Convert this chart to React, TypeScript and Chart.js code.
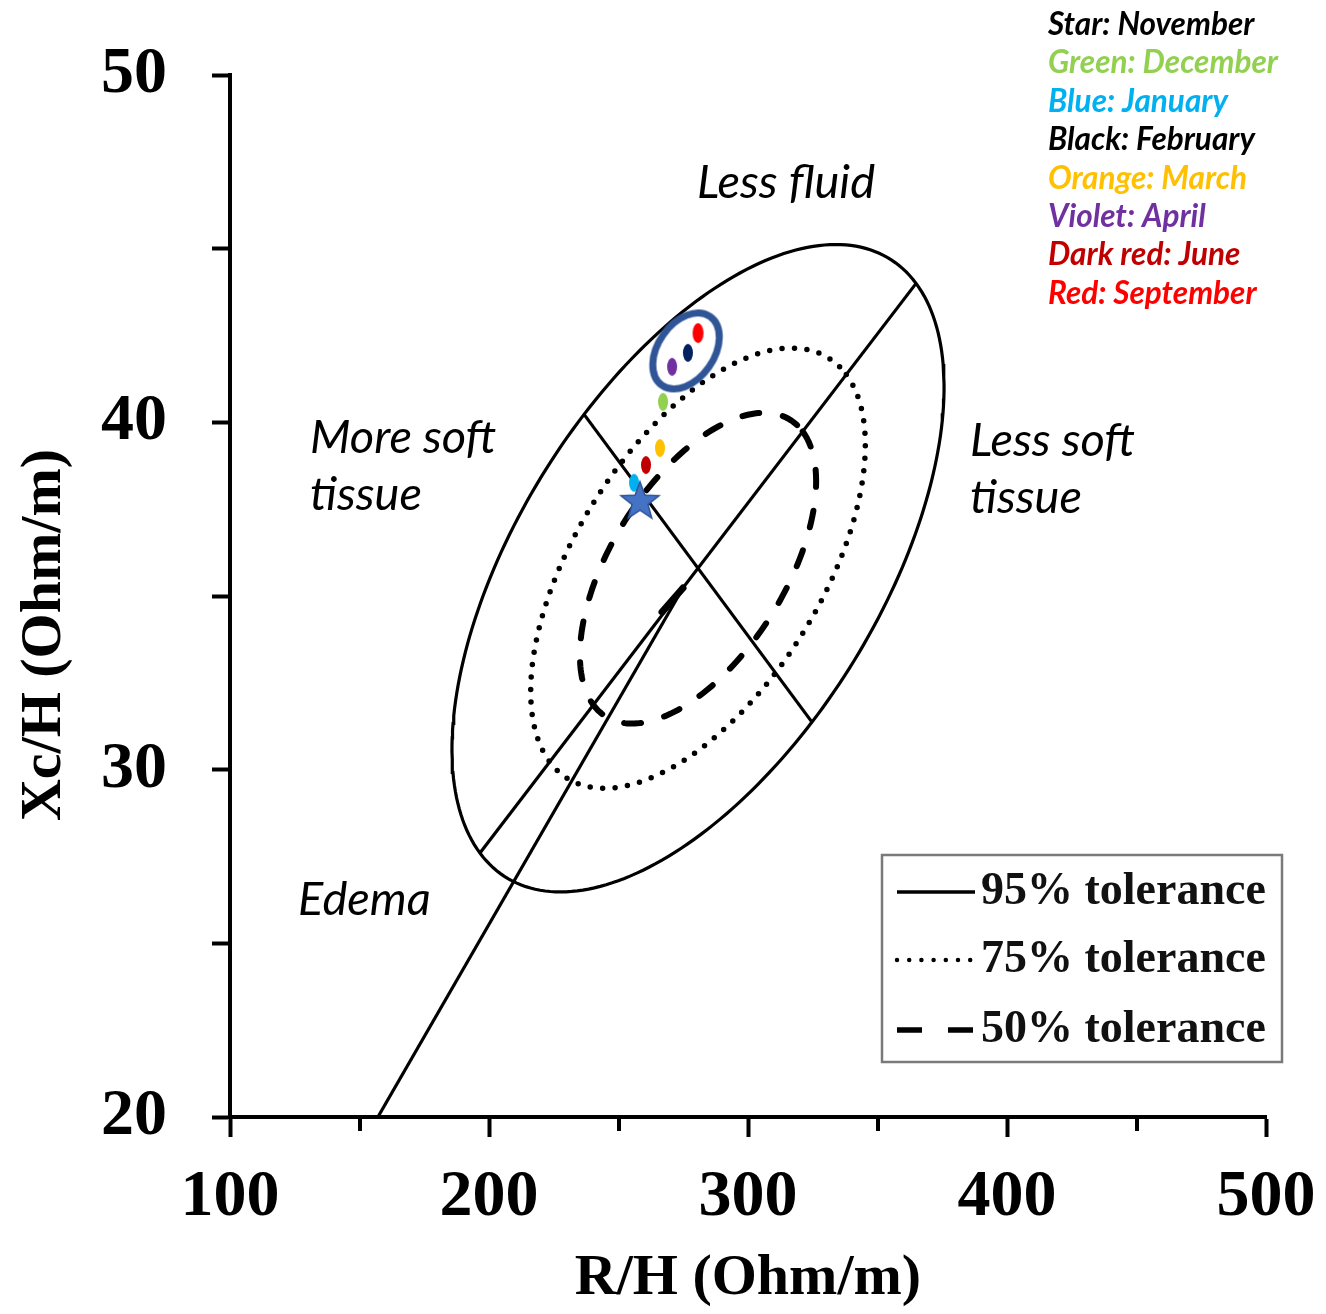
import React, { useEffect, useRef } from 'react';
import { Chart, registerables } from 'chart.js';

Chart.register(...registerables);

// ---------------- data ----------------
const xTickValues = [100, 200, 300, 400, 500];
const yTickValues = [20, 30, 40, 50];

// 95% tolerance ellipse: centre and the ends of its two drawn axes
const ellipseCenter = [280.7, 35.8];
const majorAxisEnd = [364.9, 44.0];
const minorAxisEnd = [324.7, 31.37];

const toleranceLabels = ['95% tolerance', '75% tolerance', '50% tolerance'];
const toleranceScales = [1, 0.68, 0.48];

// edema vector
const edemaLineStart = [157.1, 20];
const edemaLineEnd = [274.9, 35.23];
const edemaArrowBase = [266.8, 34.54];

const monthNames = ['November', 'December', 'January', 'February', 'March', 'April', 'June', 'September'];
const monthR = [258.3, 267.2, 256.0, 276.8, 266.0, 270.7, 260.6, 280.7];
const monthXc = [37.77, 40.59, 38.26, 42.0, 39.26, 41.6, 38.77, 42.57];
const monthMarkerColors = ['#4472C4', '#92D050', '#00B0F0', '#002060', '#FFC000', '#7030A0', '#C00000', '#FF0000'];
const monthLegendLabels = ['Star: November', 'Green: December', 'Blue: January', 'Black: February', 'Orange: March', 'Violet: April', 'Dark red: June', 'Red: September'];
const monthLegendColors = ['#000000', '#92D050', '#00B0F0', '#000000', '#FFC000', '#7030A0', '#C00000', '#FF0000'];
const highlightedMonths = ['February', 'April', 'September'];

// ---------------- helpers ----------------
const SERIF = "'Liberation Serif', 'Times New Roman', serif";
const SANS = "Lato, 'Open Sans', sans-serif";

function ellipseOutline(scale: number) {
  const cx = ellipseCenter[0], cy = ellipseCenter[1];
  const ux = (majorAxisEnd[0] - cx) * scale, uy = (majorAxisEnd[1] - cy) * scale;
  const vx = (minorAxisEnd[0] - cx) * scale, vy = (minorAxisEnd[1] - cy) * scale;
  const pts: { x: number; y: number }[] = [];
  const N = 240;
  for (let i = 0; i <= N; i++) {
    const t = (2 * Math.PI * i) / N;
    pts.push({ x: cx + ux * Math.cos(t) + vx * Math.sin(t), y: cy + uy * Math.cos(t) + vy * Math.sin(t) });
  }
  return pts;
}

function axisSegment(end: number[]) {
  const cx = ellipseCenter[0], cy = ellipseCenter[1];
  return [
    { x: 2 * cx - end[0], y: 2 * cy - end[1] },
    { x: end[0], y: end[1] },
  ];
}

function makeDot(color: string, w: number, h: number) {
  const c = document.createElement('canvas');
  c.width = w + 2;
  c.height = h + 2;
  const g = c.getContext('2d')!;
  g.fillStyle = color;
  g.beginPath();
  g.ellipse(c.width / 2, c.height / 2, w / 2, h / 2, 0, 0, Math.PI * 2);
  g.fill();
  return c;
}

function makeStar(fill: string, stroke: string, R: number) {
  const size = Math.ceil(R * 2 + 6);
  const c = document.createElement('canvas');
  c.width = size;
  c.height = size;
  const g = c.getContext('2d')!;
  const cx = size / 2, cy = size / 2 + R * 0.1;
  const r = R * 0.42;
  g.beginPath();
  for (let i = 0; i < 10; i++) {
    const rad = i % 2 === 0 ? R : r;
    const a = -Math.PI / 2 + (i * Math.PI) / 5;
    const px = cx + rad * Math.cos(a), py = cy + rad * Math.sin(a);
    if (i === 0) g.moveTo(px, py); else g.lineTo(px, py);
  }
  g.closePath();
  g.fillStyle = fill;
  g.fill();
  g.lineWidth = 1.5;
  g.strokeStyle = stroke;
  g.stroke();
  return c;
}

function makeRing(color: string, a: number, b: number, angle: number, lw: number) {
  const size = Math.ceil(2 * a + lw + 6);
  const c = document.createElement('canvas');
  c.width = size;
  c.height = size;
  const g = c.getContext('2d')!;
  g.strokeStyle = color;
  g.lineWidth = lw;
  g.beginPath();
  g.ellipse(size / 2, size / 2, a, b, angle, 0, Math.PI * 2);
  g.stroke();
  return c;
}

const toleranceStyles = [
  { borderDash: [] as number[], borderWidth: 3.2, borderCapStyle: 'butt' },
  { borderDash: [0, 12.5], borderWidth: 5.5, borderCapStyle: 'round' },
  { borderDash: [17, 24], borderWidth: 6, borderCapStyle: 'round' },
];
const legendSampleDash = [[] as number[], [0, 12.2], [25, 26]];
const legendSampleCap = ['butt', 'round', 'butt'];
const legendSampleWidth = [3.5, 4.5, 5.5];

const regionLabels = [
  { lines: ['Less fluid'], x: 280.3, y: 46.46 },
  { lines: ['More soft', 'tissue'], x: 130.9, y: 39.12 },
  { lines: ['Less soft', 'tissue'], x: 385.7, y: 39.03 },
  { lines: ['Edema'], x: 126.3, y: 25.82 },
];

const overlayPlugin = {
  id: 'overlay',
  afterDraw(chart: any) {
    const { ctx, chartArea: ca } = chart;
    const xs = chart.scales.x, ys = chart.scales.y;
    ctx.save();

    // minor x ticks (shorter)
    ctx.strokeStyle = '#000';
    ctx.lineWidth = 4;
    xs.ticks.forEach((t: any) => {
      if (!xTickValues.includes(t.value)) {
        const px = Math.round(xs.getPixelForValue(t.value));
        ctx.beginPath();
        ctx.moveTo(px, ca.bottom);
        ctx.lineTo(px, ca.bottom + 14);
        ctx.stroke();
      }
    });

    // y axis title
    ctx.save();
    ctx.translate(45, 635);
    ctx.rotate(-Math.PI / 2);
    ctx.fillStyle = '#000';
    ctx.font = `bold 58px ${SERIF}`;
    ctx.textAlign = 'center';
    ctx.textBaseline = 'middle';
    ctx.fillText('Xc/H (Ohm/m)', 0, 0);
    ctx.restore();

    // region labels
    ctx.fillStyle = '#000';
    ctx.font = `italic 47px ${SANS}`;
    ctx.textAlign = 'left';
    ctx.textBaseline = 'alphabetic';
    regionLabels.forEach((lab) => {
      const px = xs.getPixelForValue(lab.x);
      const py = ys.getPixelForValue(lab.y);
      lab.lines.forEach((ln, i) => ctx.fillText(ln, px, py + i * 57));
    });

    // month legend (top right)
    ctx.font = `italic bold 31.5px ${SANS}`;
    monthLegendLabels.forEach((txt, i) => {
      ctx.fillStyle = monthLegendColors[i];
      ctx.fillText(txt, 1048, 35 + i * 38.4);
    });

    // tolerance legend box
    const bx = ca.right - 384, by = ca.bottom - 262, bw = 400, bh = 207;
    ctx.fillStyle = '#fff';
    ctx.fillRect(bx, by, bw, bh);
    ctx.strokeStyle = '#7a7a7a';
    ctx.lineWidth = 2.5;
    ctx.strokeRect(bx, by, bw, bh);
    const rowY = [37, 105, 175];
    toleranceLabels.forEach((lab, i) => {
      const yy = by + rowY[i];
      ctx.save();
      ctx.strokeStyle = '#000';
      ctx.lineWidth = legendSampleWidth[i];
      ctx.lineCap = legendSampleCap[i];
      ctx.setLineDash(legendSampleDash[i]);
      ctx.beginPath();
      ctx.moveTo(bx + 15, yy);
      ctx.lineTo(bx + 93, yy);
      ctx.stroke();
      ctx.restore();
      ctx.fillStyle = '#111';
      ctx.font = `bold 46px ${SERIF}`;
      ctx.textBaseline = 'middle';
      ctx.fillText(lab, bx + 99, yy);
    });

    ctx.restore();
  },
};

export default function App() {
  const ref = useRef<HTMLCanvasElement | null>(null);

  useEffect(() => {
    if (!ref.current) return;

    const lineDefaults = { showLine: true, pointRadius: 0, borderColor: '#000', fill: false, tension: 0 };

    const toleranceSets = toleranceLabels.map((lab, i) => ({
      ...lineDefaults,
      label: lab,
      data: ellipseOutline(toleranceScales[i]),
      borderWidth: toleranceStyles[i].borderWidth,
      borderDash: toleranceStyles[i].borderDash,
      borderCapStyle: toleranceStyles[i].borderCapStyle,
      order: 10,
    }));

    const monthPoints = monthNames.map((m, i) => ({ x: monthR[i], y: monthXc[i] }));
    const dotStyles = monthNames.map((m, i) =>
      m === 'November'
        ? makeStar('#4472C4', '#2F5597', 20)
        : makeDot(monthMarkerColors[i], m === 'September' ? 11 : 10, m === 'September' ? 20 : 18)
    );

    const hi = monthNames.map((m, i) => i).filter((i) => highlightedMonths.includes(monthNames[i]));
    const ringCenter = {
      x: hi.reduce((s, i) => s + monthR[i], 0) / hi.length,
      y: hi.reduce((s, i) => s + monthXc[i], 0) / hi.length,
    };

    const dots = monthNames.map((m, i) => i).filter((i) => monthNames[i] !== 'November');
    const starIdx = monthNames.indexOf('November');

    const datasets: any[] = [
      {
        label: 'November',
        data: [monthPoints[starIdx]],
        pointStyle: [dotStyles[starIdx]],
        pointRadius: 20,
        showLine: false,
        order: 0,
      },
      {
        label: 'Months',
        data: dots.map((i) => monthPoints[i]),
        pointStyle: dots.map((i) => dotStyles[i]),
        pointRadius: 9,
        showLine: false,
        order: 1,
      },
      {
        label: 'Highlight',
        data: [ringCenter],
        pointStyle: [makeRing('#2F5597', 42, 28, -0.96, 7)],
        pointRadius: 40,
        showLine: false,
        order: 2,
      },
      ...toleranceSets,
      { ...lineDefaults, label: 'Major axis', data: axisSegment(majorAxisEnd), borderWidth: 3.2, order: 9 },
      { ...lineDefaults, label: 'Minor axis', data: axisSegment(minorAxisEnd), borderWidth: 3.2, order: 9 },
      {
        ...lineDefaults,
        label: 'Edema',
        data: [
          { x: edemaLineStart[0], y: edemaLineStart[1] },
          { x: edemaLineEnd[0], y: edemaLineEnd[1] },
        ],
        borderWidth: 3.2,
        order: 9,
      },
      {
        ...lineDefaults,
        label: 'Edema tip',
        data: [
          { x: edemaArrowBase[0], y: edemaArrowBase[1] },
          { x: edemaLineEnd[0], y: edemaLineEnd[1] },
        ],
        borderWidth: 7,
        borderCapStyle: 'round',
        order: 9,
      },
    ];

    const tickFont = { family: SERIF, weight: 'bold' as const, size: 66 };

    const chart = new Chart(ref.current, {
      type: 'scatter',
      data: { datasets },
      options: {
        animation: false,
        responsive: false,
        devicePixelRatio: 1,
        events: [],
        layout: { padding: { top: 75, right: 60, bottom: 0, left: 0 } },
        plugins: { legend: { display: false }, tooltip: { enabled: false } },
        scales: {
          x: {
            type: 'linear',
            min: 100,
            max: 500,
            afterFit: (s: any) => {
              s.height = 197;
              s.paddingLeft = 0;
              s.paddingRight = 0;
            },
            border: { display: true, width: 4, color: '#000' },
            grid: {
              drawOnChartArea: false,
              drawTicks: true,
              tickLength: 20,
              tickWidth: 4,
              tickColor: (c: any) => (c.tick && xTickValues.includes(c.tick.value) ? '#000' : 'rgba(0,0,0,0)'),
            },
            ticks: {
              stepSize: 50,
              autoSkip: false,
              maxRotation: 0,
              padding: 21,
              color: '#000',
              font: tickFont,
              callback: (v: any) => (xTickValues.includes(Number(v)) ? String(v) : ''),
            },
            title: {
              display: true,
              text: 'R/H (Ohm/m)',
              color: '#000',
              font: { family: SERIF, weight: 'bold', size: 58 },
              padding: { top: 0, bottom: 0 },
            },
          },
          y: {
            type: 'linear',
            min: 20,
            max: 50,
            afterFit: (s: any) => {
              s.width = 230;
              s.paddingTop = 0;
              s.paddingBottom = 0;
            },
            border: { display: true, width: 4, color: '#000' },
            grid: { drawOnChartArea: false, drawTicks: true, tickLength: 18, tickWidth: 4, tickColor: '#000' },
            ticks: {
              stepSize: 5,
              autoSkip: false,
              padding: 45,
              color: '#000',
              font: tickFont,
              callback: (v: any) => (yTickValues.includes(Number(v)) ? String(v) : ''),
            },
            title: { display: false },
          },
        },
      } as any,
      plugins: [overlayPlugin],
    });

    return () => chart.destroy();
  }, []);

  return (
    <div style={{ position: 'absolute', left: 0, top: 0, width: 1326, height: 1314, background: '#fff' }}>
      <canvas ref={ref} width={1326} height={1314} style={{ display: 'block', width: 1326, height: 1314 }} />
    </div>
  );
}
